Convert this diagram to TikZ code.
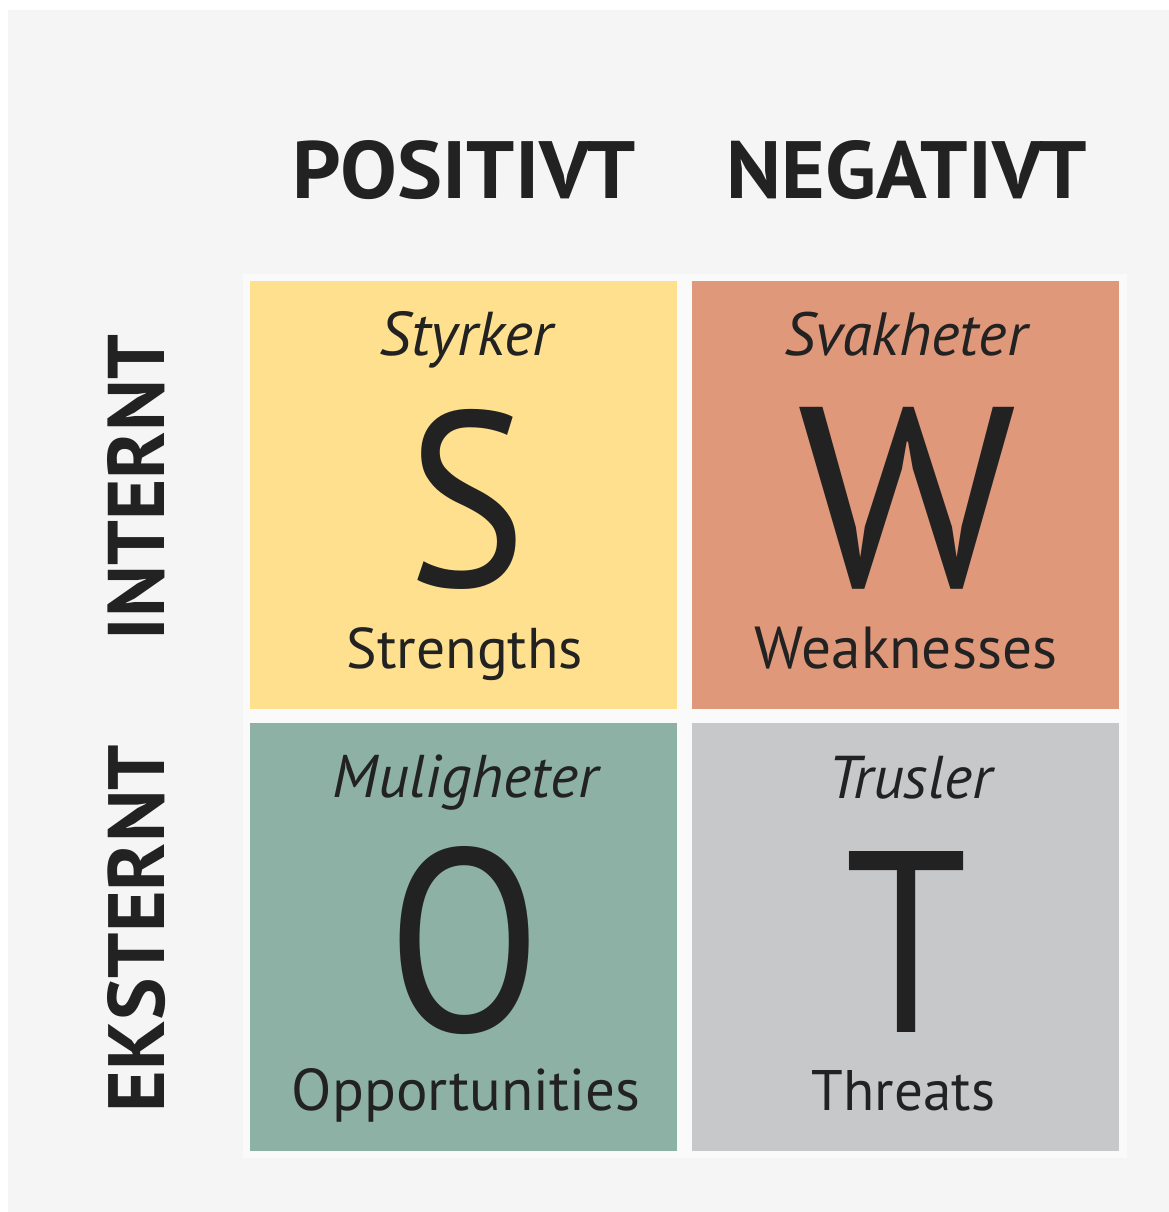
\documentclass[tikz,border=0pt]{standalone}
\usepackage{fontspec}
\setmainfont{PT Sans}
\usepackage{graphicx}
\definecolor{bgc}{HTML}{F5F5F5}
\definecolor{haloc}{HTML}{FAFAFA}
\definecolor{yel}{HTML}{FEE08F}
\definecolor{ora}{HTML}{E0987A}
\definecolor{tea}{HTML}{8DB1A5}
\definecolor{gry}{HTML}{C7C8CA}
\definecolor{ink}{HTML}{222222}
\begin{document}
\begin{tikzpicture}[x=1pt,y=-1pt,
  cell/.style={draw=none,inner sep=0pt,minimum width=427pt,minimum height=428pt},
  txt/.style={inner sep=0pt,text=ink,anchor=base},
  big/.style={inner sep=0pt,text=ink,anchor=south},
  side/.style={inner sep=0pt,text=ink,rotate=90}]
\useasboundingbox (0,0) rectangle (1169,1212);
\fill[white] (0,0) rectangle (1169,1212);
\fill[bgc] (8,10) rectangle (1169,1212);
\fill[haloc] (243,274) rectangle (1127,1158);
% cells
\node[cell,fill=yel] (s) at (463.5,495) {};
\node[cell,fill=ora] (w) at (905.5,495) {};
\node[cell,fill=tea] (o) at (463.5,937) {};
\node[cell,fill=gry] (t) at (905.5,937) {};
% headers
\node[txt] (pos) at (464.5,198) {\resizebox{343pt}{58pt}{\bfseries POSITIVT}};
\node[txt] (neg) at (907,198) {\resizebox{360pt}{58pt}{\bfseries NEGATIVT}};
\node[side] (int) at (136.5,487.5) {\resizebox{305pt}{57pt}{\bfseries INTERNT}};
\node[side] (eks) at (136.5,928.5) {\resizebox{367pt}{57pt}{\bfseries EKSTERNT}};
% S
\node[txt] (sty) at (466.5,355) {\resizebox{173pt}{!}{\itshape Styrker}};
\node[big] (sl) at (467.5,590) {\resizebox*{119pt}{180pt}{S}};
\node[txt] (str) at (465,668) {\resizebox{236pt}{!}{Strengths}};
% W
\node[txt] (sva) at (906,355) {\resizebox{242pt}{!}{\itshape Svakheter}};
\node[big] (wl) at (907.5,590) {\resizebox*{219pt}{182pt}{W}};
\node[txt] (wea) at (906,668) {\resizebox{302pt}{!}{Weaknesses}};
% O
\node[txt] (mul) at (465.5,797) {\resizebox{265pt}{!}{\itshape Muligheter}};
\node[big] (ol) at (465,1035) {\resizebox*{154pt}{188pt}{O}};
\node[txt] (opp) at (466,1110) {\resizebox{348pt}{!}{Opportunities}};
% T
\node[txt] (tru) at (910,798) {\resizebox{164pt}{!}{\itshape Trusler}};
\node[big] (tl) at (907,1033) {\resizebox*{122pt}{181pt}{T}};
\node[txt] (thr) at (903.5,1110) {\resizebox{183pt}{!}{Threats}};
\end{tikzpicture}
\end{document}
